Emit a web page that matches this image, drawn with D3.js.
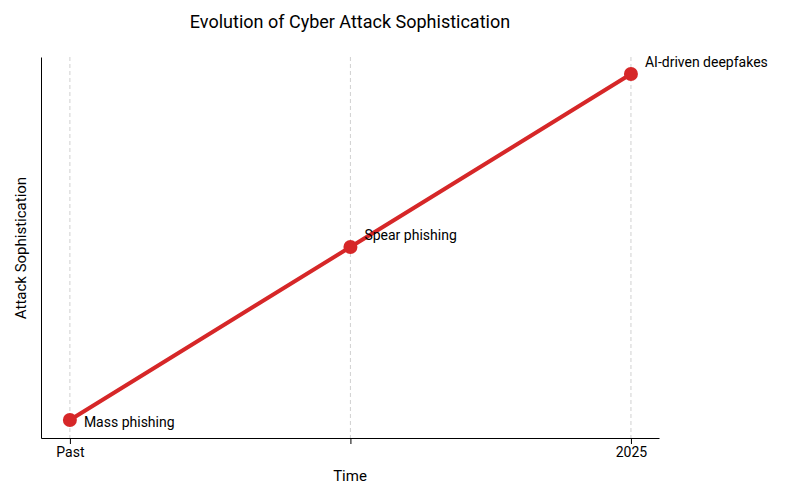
<!DOCTYPE html>
<html><head><meta charset="utf-8">
<script src="https://cdn.jsdelivr.net/npm/d3@7"></script>
<style>body{margin:0;background:#fff;font-family:Roboto,"Open Sans",sans-serif}</style>
</head><body><svg width="800" height="500"></svg>
<script>
const stages = [0, 1, 2];
const levels = [1, 2, 3];
const pointLabels = ["Mass phishing", "Spear phishing", "AI-driven deepfakes"];
const tickLabels = ["Past", "", "2025"];

const svg = d3.select("svg");
const plotLeft = 41, plotRight = 659, plotTop = 57, plotBottom = 438;

const xScale = d3.scaleLinear().domain([-0.103, 2.1]).range([plotLeft, plotRight]);
const yScale = d3.scaleLinear().domain([0.896, 3.098]).range([plotBottom, plotTop]);

// vertical dashed grid
svg.selectAll(".grid").data(stages).enter().append("line")
  .attr("x1", d => xScale(d)).attr("x2", d => xScale(d))
  .attr("y1", plotTop).attr("y2", plotBottom)
  .attr("stroke", "#d0d0d0").attr("stroke-dasharray", "4,3");

const xAxis = d3.axisBottom(xScale).tickValues(stages).tickFormat((d, i) => tickLabels[i]).tickSizeOuter(0);
svg.append("g").attr("transform", "translate(0," + plotBottom + ")").call(xAxis)
  .call(g => g.selectAll("text").attr("font-size", 14).attr("fill", "#000").attr("font-family", "Roboto"));

const yAxis = d3.axisLeft(yScale).tickValues([]).tickSizeOuter(0);
svg.append("g").attr("transform", "translate(" + plotLeft + ",0)").call(yAxis);

const line = d3.line().x((d, i) => xScale(stages[i])).y(d => yScale(d));
svg.append("path").datum(levels).attr("d", line)
  .attr("fill", "none").attr("stroke", "#d62728").attr("stroke-width", 4);

svg.selectAll(".dot").data(levels).enter().append("circle")
  .attr("cx", (d, i) => xScale(stages[i])).attr("cy", d => yScale(d))
  .attr("r", 7).attr("fill", "#d62728");

svg.selectAll(".lbl").data(levels).enter().append("text")
  .attr("x", (d, i) => xScale(stages[i]) + 14)
  .attr("y", (d, i) => yScale(d) + (i == 0 ? 7 : -7))
  .attr("font-size", 14).text((d, i) => pointLabels[i]);

svg.append("text").attr("x", 350).attr("y", 28).attr("text-anchor", "middle")
  .attr("font-size", 18).text("Evolution of Cyber Attack Sophistication");
svg.append("text").attr("x", 350).attr("y", 481).attr("text-anchor", "middle")
  .attr("font-size", 15).text("Time");
svg.append("text").attr("transform", "translate(26,248) rotate(-90)").attr("text-anchor", "middle")
  .attr("font-size", 15).text("Attack Sophistication");
</script></body></html>
